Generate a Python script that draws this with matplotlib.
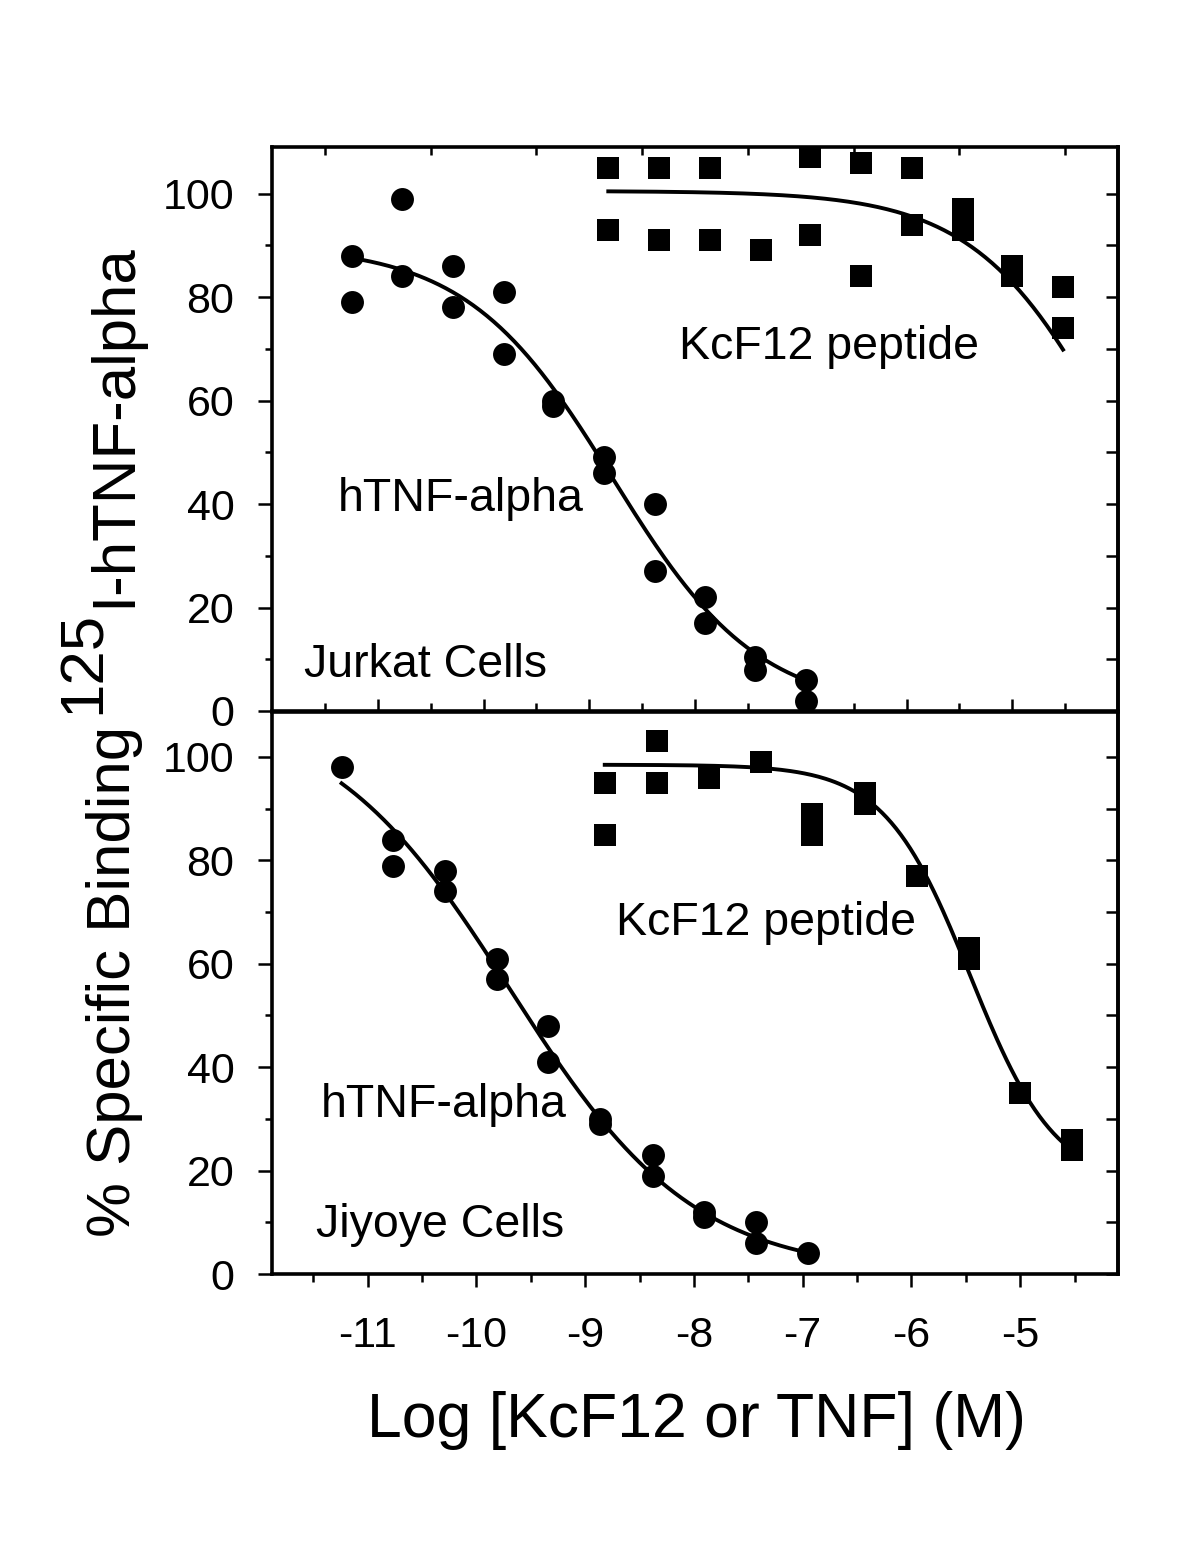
import numpy as np
import matplotlib.pyplot as plt

plt.rcParams['font.family'] = ['Liberation Sans', 'DejaVu Sans']

# log molar concentrations (3-fold dilution series)
tnf_logc = [-11.24, -10.77, -10.29, -9.81, -9.34, -8.86, -8.38, -7.91, -7.43, -6.95]
pep_logc = [-8.82, -8.34, -7.86, -7.38, -6.91, -6.43, -5.95, -5.47, -5.00, -4.52]

# Jurkat cells (top panel), % specific binding, two replicates
jurkat_tnf_a = [88, 99, 86, 81, 60, 49, 40, 22, 10.5, 6]
jurkat_tnf_b = [79, 84, 78, 69, 59, 46, 27, 17, 8, 2]
jurkat_pep_a = [105, 105, 105, 89, 107, 106, 105, 97, 86, 82]
jurkat_pep_b = [93, 91, 91, np.nan, 92, 84, 94, 93, 84, 74]

# Jiyoye cells (bottom panel)
jiyoye_tnf_a = [98, 84, 78, 61, 48, 30, 23, 12, 10, 4]
jiyoye_tnf_b = [np.nan, 79, 74, 57, 41, 29, 19, 11, 6, np.nan]
jiyoye_pep_a = [95, 103, 96, 99, 89, 93, 77, 63, 35, 26]
jiyoye_pep_b = [85, 95, np.nan, np.nan, 85, 91, np.nan, 61, np.nan, 24]

# fitted logistic curves: (top, bottom, logIC50, hill)
jurkat_tnf_fit = (90.0, 0.0, -8.78, 0.63)
jurkat_pep_fit = (100.5, 0.0, -3.97, 0.65)
jiyoye_tnf_fit = (110.0, 0.0, -9.69, 0.515)
jiyoye_pep_fit = (98.5, 17.0, -5.46, 1.1)

W, H = 1200, 1552


def fx(px):
    return px / W


def fy(py):
    return 1 - py / H


def logistic(x, p):
    top, bottom, c, h = p
    return bottom + (top - bottom) / (1 + 10 ** ((x - c) * h))


def draw_panel(ax, xs_t, ta, tb, tfit, xs_p, pa, pb, pfit):
    xt = np.linspace(xs_t[0], xs_t[-1], 200)
    xp = np.linspace(xs_p[0], xs_p[-1], 200)
    ax.plot(xt, logistic(xt, tfit), color='black', lw=2.8)
    ax.plot(xp, logistic(xp, pfit), color='black', lw=2.8)
    for ys in (ta, tb):
        ax.plot(xs_t, ys, 'o', color='black', ms=16.5, mew=0)
    for ys in (pa, pb):
        ax.plot(xs_p, ys, 's', color='black', ms=15.5, mew=0)


fig = plt.figure(figsize=(W / 100, H / 100), dpi=100)
ax1 = fig.add_axes([fx(272), fy(711), (1118 - 272) / W, (711 - 147) / H])
ax2 = fig.add_axes([fx(272), fy(1274), (1118 - 272) / W, (1274 - 712) / H])

draw_panel(ax1, tnf_logc, jurkat_tnf_a, jurkat_tnf_b, jurkat_tnf_fit,
           pep_logc, jurkat_pep_a, jurkat_pep_b, jurkat_pep_fit)
draw_panel(ax2, tnf_logc, jiyoye_tnf_a, jiyoye_tnf_b, jiyoye_tnf_fit,
           pep_logc, jiyoye_pep_a, jiyoye_pep_b, jiyoye_pep_fit)

ax1.set_xlim(-12, -4)
ax1.set_ylim(0, 109)
ax2.set_xlim(-11.88, -4.10)
ax2.set_ylim(0, 108.7)

for ax in (ax1, ax2):
    for s in ax.spines.values():
        s.set_linewidth(2.6)
    ax.set_xticks(np.arange(-11, -4.5, 1))
    ax.set_xticks(np.arange(-11.5, -4.0, 1), minor=True)
    ax.set_yticks(np.arange(0, 101, 20))
    ax.set_yticks(np.arange(10, 100, 20), minor=True)
    ax.set_yticklabels([str(v) for v in range(0, 101, 20)])
    ax.tick_params(axis='y', which='major', direction='out', length=10, width=1.8,
                   labelsize=31, pad=17, right=False)
    ax.tick_params(axis='y', which='minor', direction='out', length=5, width=1.8, right=False)
    sec = ax.secondary_yaxis('right')
    sec.set_yticks(np.arange(0, 101, 10))
    sec.tick_params(direction='in', length=9, width=1.8, labelright=False)
    sec.spines['right'].set_linewidth(2.6)

ax1.tick_params(axis='x', which='major', direction='in', length=9, width=1.8,
                labelbottom=False, top=False)
ax1.tick_params(axis='x', which='minor', direction='in', length=6, width=1.8, top=True)

ax2.set_xticklabels([str(v) for v in range(-11, -4)])
ax2.tick_params(axis='x', which='major', direction='out', length=9, width=1.8,
                labelsize=31, pad=21, top=False)
ax2.tick_params(axis='x', which='minor', direction='out', length=6, width=1.8, top=False)

# panel annotations
fig.text(fx(829), fy(359), 'KcF12 peptide', ha='center', va='baseline', fontsize=33.5)
fig.text(fx(461), fy(511), 'hTNF-alpha', ha='center', va='baseline', fontsize=33.5)
fig.text(fx(425), fy(677), 'Jurkat Cells', ha='center', va='baseline', fontsize=33.5)
fig.text(fx(766), fy(935), 'KcF12 peptide', ha='center', va='baseline', fontsize=33.5)
fig.text(fx(444), fy(1117), 'hTNF-alpha', ha='center', va='baseline', fontsize=33.5)
fig.text(fx(440), fy(1237), 'Jiyoye Cells', ha='center', va='baseline', fontsize=33.5)

fig.text(fx(696), fy(1437), 'Log [KcF12 or TNF] (M)', ha='center', va='baseline', fontsize=45)

# y label with full-size raised "125"
ylab = dict(rotation=90, rotation_mode='anchor', ha='left', va='baseline', fontsize=44.5)
renderer = fig.canvas.get_renderer()
y0 = fy(1237)
t1 = fig.text(fx(130), y0, '% Specific Binding', **ylab)
h1 = t1.get_window_extent(renderer).height / H + 12 / H
t2 = fig.text(fx(100), y0 + h1, '125', **ylab)
h2 = t2.get_window_extent(renderer).height / H + 4 / H
fig.text(fx(130), y0 + h1 + h2, 'I-hTNF-alpha', **ylab)

fig.savefig('out.png', dpi=100)
